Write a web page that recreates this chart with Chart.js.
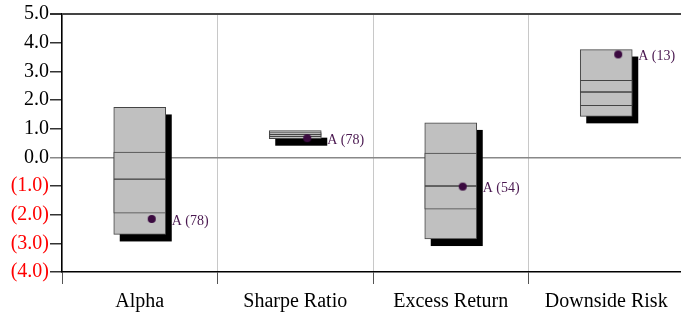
<!DOCTYPE html>
<html>
<head>
  <title>Risk Box Chart</title>
  <script src="https://cdn.jsdelivr.net/npm/chart.js"></script>
  <style>
    body { margin: 0; overflow: hidden; background: #fff; }
    #wrap { width: 690px; height: 312px; }
  </style>
</head>
<body>
  <div id="wrap"><canvas id="riskChart"></canvas></div>

  <script>
    const categories = ['Alpha', 'Sharpe Ratio', 'Excess Return', 'Downside Risk'];
    const p95 = [1.74, 0.93, 1.20, 3.76];
    const p75 = [0.18, 0.86, 0.15, 2.69];
    const p50 = [-0.76, 0.79, -1.00, 2.28];
    const p25 = [-1.95, 0.72, -1.81, 1.80];
    const p5 = [-2.69, 0.65, -2.85, 1.43];
    const fundValue = [-2.15, 0.67, -1.02, 3.59];
    const fundRank = [78, 78, 54, 13];
    const fundName = 'A';

    const serif = 'Liberation Serif';
    const dotColor = '#3b0a40';

    // dot image, circle sits 12px right of the point's centre
    const dot = document.createElement('canvas');
    dot.width = 34; dot.height = 10;
    const dctx = dot.getContext('2d');
    dctx.fillStyle = dotColor;
    dctx.beginPath();
    dctx.arc(29, 5, 4, 0, Math.PI * 2);
    dctx.fill();

    // black drop shadow behind each full box, offset 6px right / 7px down
    const boxShadow = {
      id: 'boxShadow',
      beforeDatasetDraw(chart, args) {
        if (chart.data.datasets[args.index].label !== 'range') return;
        const c = chart.ctx;
        c.save();
        c.fillStyle = '#000';
        args.meta.data.forEach(bar => {
          const p = bar.getProps(['x', 'y', 'base', 'width'], true);
          c.fillRect(p.x - p.width / 2 + 6, Math.min(p.y, p.base) + 7, p.width, Math.abs(p.base - p.y));
        });
        c.restore();
      }
    };

    const rankLabels = {
      id: 'rankLabels',
      afterDatasetsDraw(chart) {
        const idx = chart.data.datasets.findIndex(d => d.label === 'fund');
        const meta = chart.getDatasetMeta(idx);
        const c = chart.ctx;
        c.save();
        c.font = '14px "' + serif + '"';
        c.fillStyle = '#4a1850';
        c.textBaseline = 'middle';
        meta.data.forEach((pt, i) => {
          c.fillText(fundName + ' (' + fundRank[i] + ')', pt.x + 32, pt.y + 2);
        });
        c.restore();
      }
    };

    const barStyle = {
      type: 'bar',
      backgroundColor: '#c0c0c0',
      borderColor: '#444',
      borderWidth: 1,
      borderSkipped: false,
      barThickness: 52,
      grouped: false
    };

    new Chart(document.getElementById('riskChart'), {
      data: {
        labels: categories,
        datasets: [
          { label: 'fund', type: 'line', data: fundValue, showLine: false,
            pointStyle: dot, pointRadius: 5, order: 0 },
          Object.assign({ label: 'upper', order: 1,
            data: p50.map((v, i) => [v, p75[i]]) }, barStyle),
          Object.assign({ label: 'lower', order: 1,
            data: p25.map((v, i) => [v, p50[i]]) }, barStyle),
          Object.assign({ label: 'range', order: 2,
            data: p5.map((v, i) => [v, p95[i]]) }, barStyle)
        ]
      },
      options: {
        responsive: true,
        maintainAspectRatio: false,
        animation: false,
        layout: { padding: { top: 14, left: 0, right: 0, bottom: 0 } },
        plugins: { legend: { display: false }, tooltip: { enabled: false } },
        scales: {
          x: {
            offset: true,
            grid: { offset: true, color: '#c8c8c8', tickColor: '#555', tickLength: 12, lineWidth: 1 },
            border: { color: '#000', width: 1.5 },
            ticks: { color: '#000', padding: 6, font: { family: serif, size: 20 } },
            afterFit: s => { s.height = 40; }
          },
          y: {
            min: -4,
            max: 5,
            ticks: {
              stepSize: 1,
              padding: 1,
              font: { family: serif, size: 20 },
              color: c => c.tick.value < 0 ? '#ff0000' : '#000',
              callback: v => v < 0 ? '(' + Math.abs(v).toFixed(1) + ')' : v.toFixed(1)
            },
            grid: {
              tickLength: 12,
              color: c => c.tick.value === 5 ? '#444' : c.tick.value === 0 ? '#888' : 'rgba(0,0,0,0)',
              tickColor: c => c.tick.value === 0 ? '#888' : '#333',
              lineWidth: c => c.tick.value === 5 ? 2 : 1.5
            },
            border: { color: '#000', width: 1.5 },
            afterFit: s => { s.width = 62; }
          }
        }
      },
      plugins: [boxShadow, rankLabels]
    });
  </script>
</body>
</html>
